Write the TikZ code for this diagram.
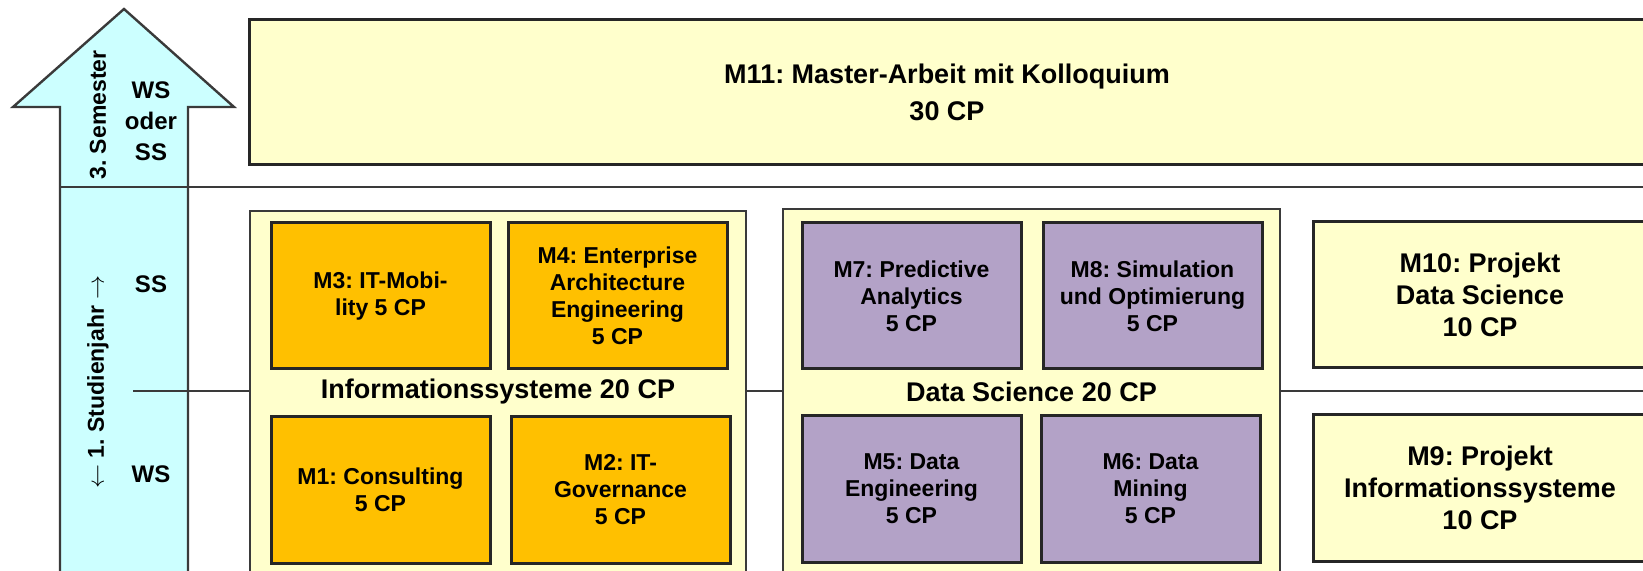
\documentclass[tikz,border=0pt]{standalone}
\usepackage{fontspec}
\setmainfont{Liberation Sans}
\usepackage{tikz}
\usetikzlibrary{positioning}
\frenchspacing

\definecolor{paleyellow}{HTML}{FFFFCC}
\definecolor{isorange}{HTML}{FFC000}
\definecolor{dslilac}{HTML}{B3A2C7}
\definecolor{arrowcyan}{HTML}{CCFFFF}
\definecolor{edgegray}{HTML}{3A3A3A}

\begin{document}
\begin{tikzpicture}[
    x=0.5pt, y=-0.5pt,
    node distance=10pt,
    groupbox/.style={rectangle, draw=edgegray, fill=paleyellow, line width=1.2pt, anchor=north west, minimum width=248pt, minimum height=200pt, outer sep=0pt},
    isbox/.style={rectangle, draw=black!85, fill=isorange, line width=1.5pt, minimum width=109.5pt, minimum height=73pt, inner sep=0pt, outer sep=0pt, align=center, font=\fontsize{11.5}{13.5}\selectfont\bfseries},
    dsbox/.style={isbox, fill=dslilac},
    projbox/.style={rectangle, draw=black!85, fill=paleyellow, line width=1.5pt, minimum width=167pt, minimum height=73pt, inner sep=0pt, outer sep=0pt, align=center, font=\fontsize{13.5}{16}\selectfont\bfseries},
    grouplabel/.style={font=\fontsize{13.5}{16}\selectfont\bfseries},
    semtext/.style={align=center, font=\fontsize{12}{15.5}\selectfont\bfseries},
    sidetext/.style={rotate=90, font=\fontsize{11.5}{13.5}\selectfont\bfseries},
    rule/.style={draw=edgegray, line width=1pt}
]
\useasboundingbox (0,0) rectangle (1643,571);
\clip (0,0) rectangle (1643,571);

% Semester arrow
\draw[fill=arrowcyan, draw=edgegray, line width=1.2pt]
    (124,9) -- (234,107) -- (188,107) -- (188,620) -- (60,620) -- (60,107) -- (13,107) -- cycle;

% Rules between semesters
\coordinate (topL) at (60,187);
\coordinate (topR) at (1660,187);
\coordinate (midL) at (133,391);
\coordinate (midR) at (1660,391);
\draw[rule] (topL) -- (topR);
\draw[rule] (midL) -- (midR);

% Master thesis
\node[projbox, minimum width=698pt, minimum height=72.5pt, font=\fontsize{13.5}{18.5}\selectfont\bfseries] (m11) at (947,92.5) {M11: Master-Arbeit mit Kolloquium\\30 CP};

% Module groups
\node[groupbox] (infogrp) at (250,211) {};
\node[groupbox, minimum width=248.5pt] (dsgrp) at (783,209) {};
\node[grouplabel] (infolbl) at (498,392) {Informationssysteme 20 CP};
\node[grouplabel] (dslbl) at (1031.5,392) {Data Science 20 CP};

% Informationssysteme
\node[isbox] (m3) at (380.5,296) {M3: IT-Mobi-\\lity 5 CP};
\node[isbox, right=9pt of m3] (m4) {M4: Enterprise\\Architecture\\Engineering\\5 CP};
\node[isbox, below=24pt of m3] (m1) {M1: Consulting\\5 CP};
\node[isbox, right=10.5pt of m1] (m2) {M2: IT-\\Governance\\5 CP};

% Data Science
\node[dsbox] (m7) at (911.5,296) {M7: Predictive\\Analytics\\5 CP};
\node[dsbox, right=11pt of m7] (m8) {M8: Simulation\\und Optimierung\\5 CP};
\node[dsbox, below=23.5pt of m7] (m5) {M5: Data\\Engineering\\5 CP};
\node[dsbox, right=10pt of m5] (m6) {M6: Data\\Mining\\5 CP};

% Projects
\node[projbox] (m10) at (1480,295) {M10: Projekt\\Data Science\\10 CP};
\node[projbox, below=23.5pt of m10] (m9) {M9: Projekt\\Informationssysteme\\10 CP};

% Semester labels
\node[sidetext] (sem3) at (98,115) {3. Semester};
\node[semtext] (ws3) at (151,121) {WS\\oder\\SS};
\node[semtext] (ss1) at (151,284) {SS};
\node[semtext] (ws1) at (151,474) {WS};
\node[sidetext] (year1) at (98,382) {$\leftarrow$ 1. Studienjahr $\rightarrow$};

\end{tikzpicture}
\end{document}
